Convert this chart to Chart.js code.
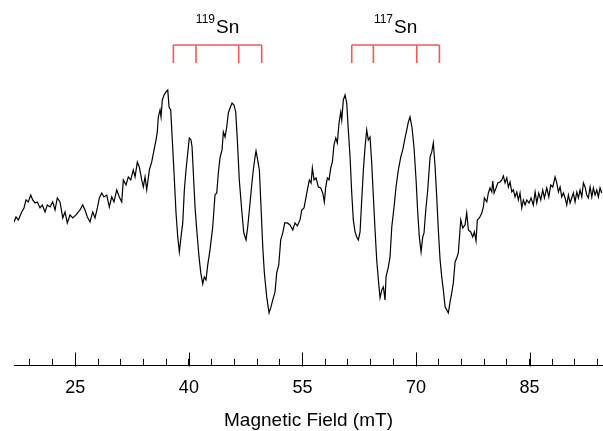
<!DOCTYPE html>
<html>
<head>
<meta charset="utf-8">
<script src="https://cdn.jsdelivr.net/npm/chart.js@4/dist/chart.umd.min.js"></script>
<style>
html,body{margin:0;padding:0;background:#fff;}
#wrap{width:603px;height:431px;position:relative;}
</style>
</head>
<body>
<div id="wrap"><canvas id="c"></canvas></div>
<script>
// ---- data (magnetic field in mT, EPR intensity in arbitrary units) ----
const fieldMT = [
16.90,17.17,17.47,17.92,18.22,18.49,18.79,19.11,19.37,19.68,19.98,20.34,20.64,21.00,21.30,21.66,22.01,22.32,22.62,22.98,
23.34,23.64,23.94,24.30,24.66,25.09,25.62,25.98,26.28,26.59,26.94,27.30,27.60,27.91,28.17,28.49,28.79,29.15,29.49,29.81,
30.11,30.47,30.81,31.13,31.34,31.70,32.00,32.32,32.66,32.89,33.19,33.45,33.77,33.98,34.21,34.43,34.78,35.09,35.40,35.66,
35.83,35.96,36.19,36.32,36.49,36.72,36.98,37.21,37.38,37.60,37.81,38.04,38.30,38.53,38.74,38.96,39.19,39.40,39.62,39.85,
40.06,40.28,40.42,40.59,40.81,41.04,41.34,41.57,41.83,42.04,42.26,42.49,42.79,43.15,43.45,43.68,43.89,44.11,44.38,44.55,
44.78,45.00,45.21,45.44,45.70,45.96,46.19,46.40,46.66,46.98,47.25,47.55,47.77,47.99,48.30,48.51,48.74,48.87,49.04,49.31,
49.53,49.76,49.97,50.28,50.59,50.81,51.08,51.38,51.60,51.87,52.13,52.40,52.66,53.01,53.36,53.72,54.02,54.33,54.68,
54.91,55.21,55.48,55.65,55.91,56.14,56.31,56.53,56.80,57.10,57.42,57.68,57.89,58.08,58.29,58.51,58.74,58.95,59.17,59.40,
59.61,59.83,60.06,60.19,60.40,60.63,60.85,61.06,61.29,61.51,61.72,61.95,62.17,62.38,62.61,62.83,63.05,63.27,63.49,63.70,
63.93,64.15,64.37,64.59,64.81,65.03,65.25,65.48,65.69,65.91,66.04,66.35,66.57,66.80,67.10,67.36,67.67,67.99,68.25,68.55,
68.78,68.99,69.21,69.48,69.74,70.01,70.23,70.44,70.67,70.89,71.06,71.29,71.55,71.86,72.08,72.29,72.52,72.74,72.95,73.18,
73.40,73.61,73.84,74.06,74.27,74.50,74.72,74.93,75.16,75.38,75.59,
75.91,76.17,76.48,76.70,76.92,77.23,77.49,77.71,77.93,78.10,78.37,78.69,78.90,79.03,79.35,79.56,79.78,80.01,80.14,80.31,
80.57,80.80,81.10,81.33,81.54,81.76,81.99,82.20,82.42,82.65,82.86,83.08,83.31,83.52,83.74,83.97,84.18,84.41,84.63,84.93,
85.20,85.50,85.73,85.95,86.21,86.48,86.74,86.96,87.27,87.54,87.80,88.07,88.37,88.59,88.81,89.03,89.25,89.47,89.69,89.91,
90.13,90.35,90.57,90.79,91.01,91.24,91.45,91.67,91.90,92.11,92.33,92.56,92.77,93.00,93.22,93.43,93.65,93.88,94.09,94.31,
94.54
];
const intensity = [
-17,-12,-15,-7,-3,5,3,10,5,2,3,-3,0,-7,0,-2,3,-5,7,3,
-13,-7,-18,-10,-13,-10,-5,0,-5,-12,-17,-7,-13,-3,7,12,8,10,-2,8,
3,15,8,3,25,20,28,25,35,28,43,38,25,18,28,15,35,43,55,65,
73,88,95,88,105,110,113,115,98,95,65,32,-8,-32,-47,-32,-18,15,35,52,
67,65,58,32,-2,-25,-52,-68,-79,-72,-75,-60,-45,-22,10,12,32,47,55,73,
68,78,92,97,102,100,93,65,25,-5,-28,-35,-22,-5,20,35,48,54,47,35,
-2,-42,-68,-92,-108,-103,-95,-87,-68,-60,-35,-28,-18,-18,-20,-25,-18,-21,-15,
-5,-3,8,15,25,22,37,25,27,18,17,12,3,18,27,25,37,43,60,67,
62,82,93,85,105,110,102,75,48,12,-15,-27,-32,-35,-27,5,35,58,75,65,
68,42,8,-25,-55,-75,-93,-85,-82,-95,-72,-62,-52,-22,-2,18,35,48,55,67,
75,83,88,77,57,25,-8,-32,-47,-32,-28,-5,15,48,53,62,38,8,-25,-55,
-72,-85,-102,-105,-108,-97,-88,-78,-57,-53,-48,
-15,-23,-20,-8,-25,-27,-32,-27,-36,-15,-13,-8,-2,7,3,12,17,13,24,12,
17,22,23,25,29,22,27,18,23,13,15,8,13,5,12,-3,5,0,5,2,
7,0,13,2,12,5,15,7,17,8,20,18,28,22,13,18,8,12,7,0,
10,2,7,12,3,13,7,15,8,22,18,10,7,18,8,17,10,15,8,17,
12
];
// hyperfine stick positions (mT)
const sn119Lines = [37.95, 40.94, 46.58, 49.62];
const sn117Lines = [61.51, 64.37, 70.10, 73.09];
const isotopeMass = ['119', '117'];
const isotopeElement = ['Sn', 'Sn'];
// axis ticks (mT)
const majorTicks = [25, 40, 55, 70, 85];
const minorTicks = [19, 22, 28, 31, 34, 37, 43, 46, 49, 52, 58, 61, 64, 67, 73, 76, 79, 82, 88, 91, 94];
const axisTitle = 'Magnetic Field (mT)';

// ---- styling / layout constants ----
const FONT = "'Liberation Sans', Arial, sans-serif";
const STICK_TOP = 160, STICK_BOTTOM = 142, LABEL_BASE = 172; // in intensity units
const STICK_COLOR = 'rgba(240,60,60,0.85)';

function stickData(lines) {
  const pts = [];
  pts.push({x: lines[0], y: STICK_TOP});
  pts.push({x: lines[lines.length - 1], y: STICK_TOP});
  lines.forEach(v => {
    pts.push({x: v, y: null});
    pts.push({x: v, y: STICK_TOP});
    pts.push({x: v, y: STICK_BOTTOM});
  });
  return pts;
}

const spectrum = fieldMT.map((f, i) => ({x: f, y: intensity[i]}));
const allTicks = majorTicks.concat(minorTicks).sort((a, b) => a - b);

const decor = {
  id: 'decor',
  afterDraw(chart) {
    const {ctx, scales: {x, y}} = chart;
    ctx.save();
    // longer major ticks
    ctx.strokeStyle = '#000';
    ctx.lineWidth = 1;
    const base = Math.round(x.top) + 0.5;
    majorTicks.forEach(v => {
      const px = Math.round(x.getPixelForValue(v)) + 0.5;
      ctx.beginPath();
      ctx.moveTo(px, base);
      ctx.lineTo(px, base - 14);
      ctx.stroke();
    });
    // isotope labels
    [sn119Lines, sn117Lines].forEach((lines, i) => {
      const mid = (lines[0] + lines[lines.length - 1]) / 2;
      const cx = x.getPixelForValue(mid);
      const by = y.getPixelForValue(LABEL_BASE);
      ctx.fillStyle = '#000';
      ctx.textBaseline = 'alphabetic';
      ctx.textAlign = 'left';
      ctx.font = '12px ' + FONT;
      const wSup = ctx.measureText(isotopeMass[i]).width;
      ctx.font = '19px ' + FONT;
      const wMain = ctx.measureText(isotopeElement[i]).width;
      const start = cx - (wSup + wMain + 1) / 2;
      ctx.font = '12px ' + FONT;
      ctx.fillText(isotopeMass[i], start, by - 10);
      ctx.font = '19px ' + FONT;
      ctx.fillText(isotopeElement[i], start + wSup + 1, by);
    });
    ctx.restore();
  }
};

Chart.defaults.font.family = FONT;
Chart.defaults.color = '#000';

new Chart(document.getElementById('c'), {
  type: 'line',
  data: {
    datasets: [
      {data: spectrum, borderColor: '#000', borderWidth: 1.2, pointRadius: 0, tension: 0, fill: false},
      {data: stickData(sn119Lines), borderColor: STICK_COLOR, borderWidth: 1.6, pointRadius: 0, spanGaps: false, fill: false},
      {data: stickData(sn117Lines), borderColor: STICK_COLOR, borderWidth: 1.6, pointRadius: 0, spanGaps: false, fill: false}
    ]
  },
  options: {
    responsive: true,
    maintainAspectRatio: false,
    animation: false,
    devicePixelRatio: 1,
    layout: {padding: {left: 14, right: 0, top: 0, bottom: 0}},
    plugins: {legend: {display: false}, tooltip: {enabled: false}},
    scales: {
      x: {
        type: 'linear',
        min: 16.9,
        max: 94.7,
        afterBuildTicks: (scale) => { scale.ticks = allTicks.map(v => ({value: v})); },
        ticks: {
          autoSkip: false,
          maxRotation: 0,
          minRotation: 0,
          padding: 0,
          font: {size: 18, lineHeight: 3.25},
          color: '#000',
          callback: (v) => majorTicks.includes(v) ? String(v) : ''
        },
        grid: {display: true, drawOnChartArea: false, drawTicks: true, tickLength: -7, tickColor: '#000', tickWidth: 1},
        border: {display: true, color: '#000', width: 1},
        title: {display: true, text: axisTitle, font: {size: 19}, color: '#000', padding: {top: -8.2, bottom: -1}}
      },
      y: {
        display: false,
        min: -161,
        max: 205
      }
    }
  },
  plugins: [decor]
});
</script>
</body>
</html>
